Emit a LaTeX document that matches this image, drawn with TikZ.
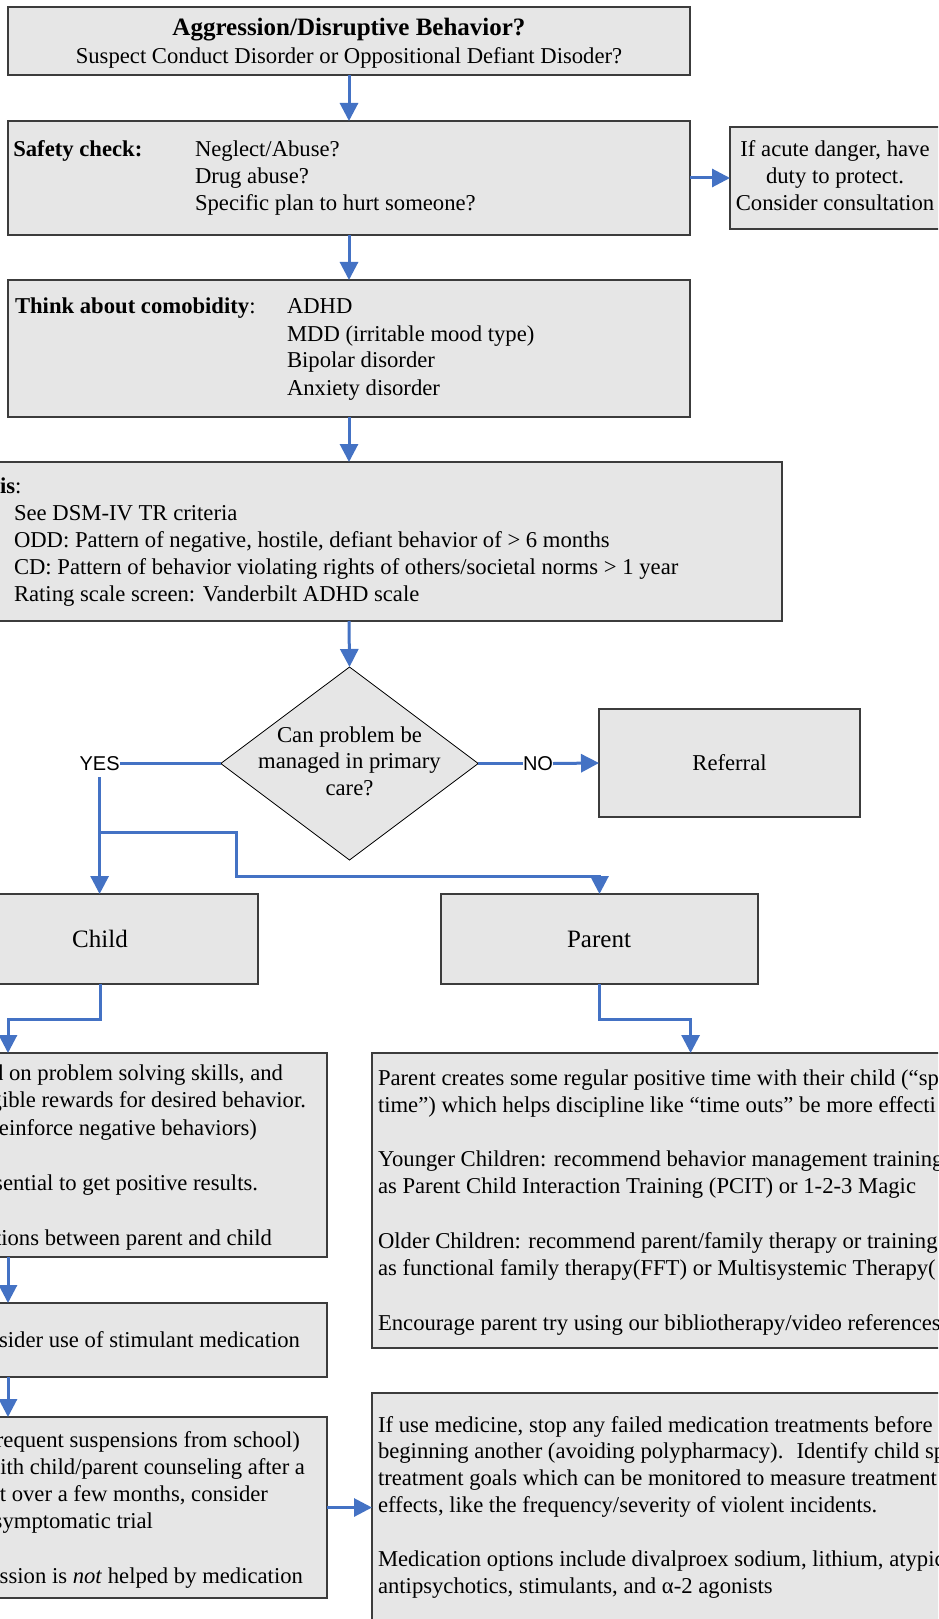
\documentclass[tikz,border=0pt]{standalone}
\usepackage{fontspec}
\setmainfont{Liberation Serif}
\newfontfamily\arialf{Liberation Sans}
\usetikzlibrary{arrows.meta,shapes.geometric,fit}
\definecolor{arrowblue}{HTML}{4472C4}
\definecolor{boxgray}{HTML}{E6E6E6}
\definecolor{boxline}{HTML}{3C3C3C}
\begin{document}
\begin{tikzpicture}[x=0.75pt,y=-0.75pt,
  box/.style={draw=boxline, fill=boxgray, line width=0.9pt, inner sep=0pt, outer sep=0pt, rectangle},
  dia/.style={draw=black, fill=boxgray, line width=0.6pt, diamond, inner sep=0pt, outer sep=0pt},
  flow/.style={draw=arrowblue, line width=2.25pt, -{Triangle[length=13.5pt,width=13.5pt]}},
  conn/.style={draw=arrowblue, line width=2.25pt},
  tl/.style={inner sep=0pt, outer sep=0pt, font=\fontsize{17}{20}\selectfont, anchor=base west},
  tr/.style={inner sep=0pt, outer sep=0pt, font=\fontsize{17}{20}\selectfont, anchor=base east},
  tc/.style={inner sep=0pt, outer sep=0pt, font=\fontsize{17}{20}\selectfont, anchor=base},
  tbig/.style={inner sep=0pt, outer sep=0pt, font=\fontsize{18.75}{22}\selectfont, anchor=base},
  lab/.style={inner xsep=0pt, inner ysep=5pt, outer sep=0pt, font=\arialf\fontsize{15}{18}\selectfont}
]
\useasboundingbox (0,0) rectangle (938,1619);
\fill[white] (0,0) rectangle (938,1619);
\clip (0,0) rectangle (938,1619);

% boxes
\node[box, fit={(8,7) (690,75)}] (title) {};
\node[box, fit={(8,121) (690,235)}] (safety) {};
\node[box, fit={(730,127) (942,229)}] (danger) {};
\node[box, fit={(8,280) (690,417)}] (comorb) {};
\node[box, fit={(-84,462) (782,621)}] (diag) {};
\node[dia, minimum width=193.1pt, minimum height=144.75pt] (dec) at (349.5,763.5) {};
\node[box, fit={(599,709) (860,817)}] (referral) {};
\node[box, fit={(-58,894) (258,984)}] (child) {};
\node[box, fit={(441,894) (758,984)}] (parent) {};
\node[box, fit={(-100,1053) (327,1257)}] (ctext) {};
\node[box, fit={(-100,1303) (327,1377)}] (stim) {};
\node[box, fit={(-100,1417) (327,1598)}] (severe) {};
\node[box, fit={(372,1053) (960,1348)}] (ptext) {};
\node[box, fit={(372,1393) (960,1650)}] (med) {};

% title
\node[tbig] (t1) at (349,36) {\textbf{Aggression/Disruptive Behavior?}};
\node[tc] (t2) at (349,63.3) {Suspect Conduct Disorder or Oppositional Defiant Disoder?};

% safety
\node[tl] (s0) at (13.3,157) {\textbf{Safety check:}};
\node[tl] (s1) at (195,157) {Neglect/Abuse?};
\node[tl] (s2) at (195,184) {Drug abuse?};
\node[tl] (s3) at (195,211) {Specific plan to hurt someone?};

% danger
\node[tc] (d1) at (835,157) {If acute danger, have};
\node[tc] (d2) at (835,184) {duty to protect.};
\node[tc] (d3) at (835,211) {Consider consultation};

% comorbidity
\node[tl] (c0) at (15,313.5) {\textbf{Think about comobidity}:};
\node[tl] (c1) at (287,313.5) {ADHD};
\node[tl] (c2) at (287,341) {MDD (irritable mood type)};
\node[tl] (c3) at (287,368) {Bipolar disorder};
\node[tl] (c4) at (287,395.5) {Anxiety disorder};

% diagnosis
\node[tl] (g0) at (0,493) {\textbf{is}:};
\node[tl] (g1) at (14,520) {See DSM-IV TR criteria};
\node[tl] (g2) at (14,547) {ODD: Pattern of negative, hostile, defiant behavior of > 6 months};
\node[tl] (g3) at (14,574) {CD: Pattern of behavior violating rights of others/societal norms > 1 year};
\node[tl] (g4) at (14,601) {Rating scale screen: Vanderbilt ADHD scale};

% decision
\node[tc] (q1) at (349.5,742) {Can problem be};
\node[tc] (q2) at (349.5,768.5) {managed in primary};
\node[tc] (q3) at (349.5,795) {care?};
\node[lab] (yes) at (99.6,763.5) {YES};
\node[lab] (no) at (538,763.5) {NO};
\node[tc] (r1) at (729.5,770) {Referral};

% child / parent
\node[tbig] (ch) at (100,947) {Child};
\node[tbig] (pa) at (599,947) {Parent};

% child text
\node[tr] (k1) at (283,1080) {d on problem solving skills, and};
\node[tr] (k2) at (306,1107.5) {gible rewards for desired behavior.};
\node[tr] (k3) at (257,1135) {einforce negative behaviors)};
\node[tr] (k4) at (258,1190) {sential to get positive results.};
\node[tr] (k5) at (272,1245) {tions between parent and child};

\node[tr] (m1) at (300,1347) {sider use of stimulant medication};

\node[tr] (v1) at (300,1447) {requent suspensions from school)};
\node[tr] (v2) at (305,1474) {ith child/parent counseling after a};
\node[tr] (v3) at (268,1501) {t over a few months, consider};
\node[tr] (v4) at (153,1528) {symptomatic trial};
\node[tr] (v5) at (303,1583) {ssion is \textit{not} helped by medication};

% parent text
\node[tl] (p1) at (378,1085) {Parent creates some regular positive time with their child (“sp};
\node[tl] (p2) at (378,1112) {time”) which helps discipline like “time outs” be more effecti};
\node[tl] (p3) at (378,1166) {Younger Children: recommend behavior management training};
\node[tl] (p4) at (378,1193) {as Parent Child Interaction Training (PCIT) or 1-2-3 Magic};
\node[tl] (p5) at (378,1248) {Older Children: recommend parent/family therapy or training};
\node[tl] (p6) at (378,1275) {as functional family therapy(FFT) or Multisystemic Therapy(};
\node[tl] (p7) at (378,1330) {Encourage parent try using our bibliotherapy/video references};

% medication text
\node[tl] (e1) at (378,1432) {If use medicine, stop any failed medication treatments before};
\node[tl] (e2) at (378,1458.5) {beginning another (avoiding polypharmacy).~ Identify child sp};
\node[tl] (e3) at (378,1485) {treatment goals which can be monitored to measure treatment};
\node[tl] (e4) at (378,1512) {effects, like the frequency/severity of violent incidents.};
\node[tl] (e5) at (378,1566) {Medication options include divalproex sodium, lithium, atypic};
\node[tl] (e6) at (378,1593) {antipsychotics, stimulants, and α-2 agonists};

% connectors
\coordinate (br) at (99.6,832);
\coordinate (bk) at (236,876);
\coordinate (ctin) at (8,1053);
\coordinate (ptin) at (690.6,1053);

\draw[flow] (title.south) -- (safety.north);
\draw[flow] (safety.east) -- (danger.west);
\draw[flow] (safety.south) -- (comorb.north);
\draw[flow] (comorb.south) -- (diag.north);
\draw[flow] (diag.south) -- (dec.north);
\draw[conn] (dec.east) -- (no.west);
\draw[flow] (no.east) -- (referral.west);
\draw[conn] (dec.west) -- (yes.east);
\draw[flow] (yes.south) -- (yes.south |- child.north);
\draw[flow] (br) -| (bk) -| (parent.north);
\draw[flow] (child.south) -- ++(0,35) -| (ctin);
\draw[flow] (parent.south) -- ++(0,35) -| (ptin);
\draw[flow] (ctext.south -| ctin) -- (stim.north -| ctin);
\draw[flow] (stim.south -| ctin) -- (severe.north -| ctin);
\draw[flow] (severe.east) -- (severe.east -| med.west);
\end{tikzpicture}
\end{document}
